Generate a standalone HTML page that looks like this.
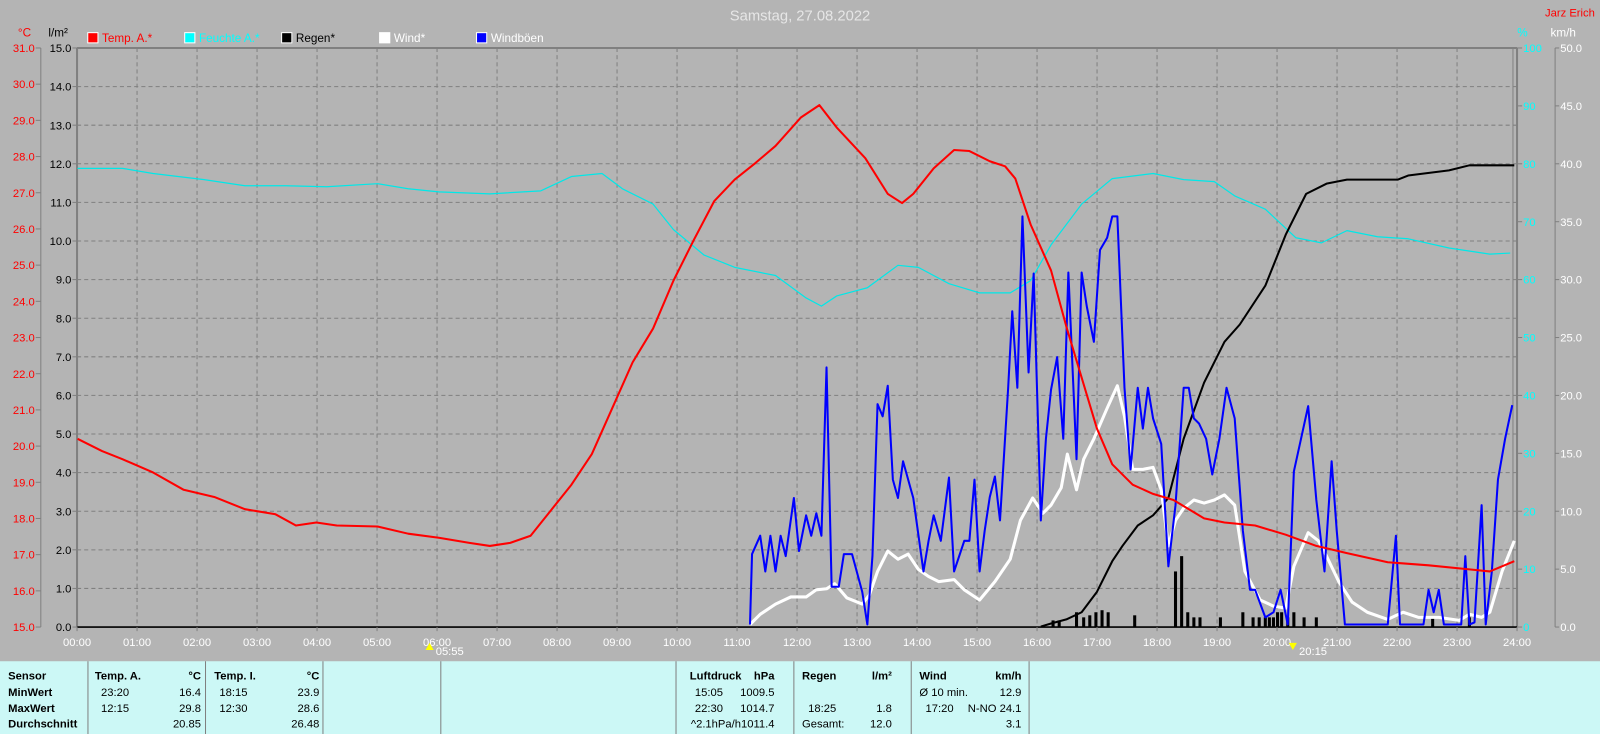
<!DOCTYPE html>
<html><head><meta charset="utf-8"><style>
html,body{margin:0;padding:0;background:#b4b4b4;}
svg{display:block;font-family:"Liberation Sans",sans-serif;}
</style></head><body>
<svg width="1600" height="734" viewBox="0 0 1568 719.3" xmlns="http://www.w3.org/2000/svg">
<rect x="0" y="0" width="1568" height="720" fill="#b4b4b4"/>
<text x="784" y="20" text-anchor="middle" font-size="14.5" fill="#e6e6e6">Samstag, 27.08.2022</text>
<text x="1563" y="16" text-anchor="end" font-size="11" fill="#ff0000">Jarz Erich</text>
<!-- legend -->
<g font-size="11.5">
<rect x="86" y="32" width="10" height="10" fill="#ff0000" stroke="#fff"/><text x="100" y="41" fill="#ff0000">Temp. A.*</text>
<rect x="181" y="32" width="10" height="10" fill="#00ffff" stroke="#fff"/><text x="195" y="41" fill="#00ffff">Feuchte A.*</text>
<rect x="276" y="32" width="10" height="10" fill="#000" stroke="#fff"/><text x="290" y="41" fill="#000">Regen*</text>
<rect x="372" y="32" width="10" height="10" fill="#fff" stroke="#fff"/><text x="386" y="41" fill="#fff">Wind*</text>
<rect x="467" y="32" width="10" height="10" fill="#0000ff" stroke="#fff"/><text x="481" y="41" fill="#fff">Windböen</text>
</g>
<text x="24" y="36" font-size="11.5" fill="#ff0000" text-anchor="middle">°C</text>
<text x="57" y="36" font-size="11.5" fill="#000" text-anchor="middle">l/m²</text>
<text x="1492" y="36" font-size="11.5" fill="#00ffff" text-anchor="middle">%</text>
<text x="1532" y="36" font-size="11.5" fill="#fff" text-anchor="middle">km/h</text>
<!-- grid -->
<g stroke="#808080" stroke-width="1" stroke-dasharray="4,3" id="grid"></g>
<g id="axes"></g>
<!-- rain bars -->
<g id="bars" fill="#000"></g>
<g fill="none" stroke-linejoin="round">
<polyline stroke="#00e8e8" stroke-width="1.2" points="76,165 120,165 150,170 200,176 240,182 280,182 320,183 370,180 400,185 430,188 480,190 530,187 560,173 590,170 610,185 640,200 660,225 690,250 720,262 760,270 790,292 805,300 820,290 850,282 880,260 900,262 930,278 960,287 990,287 1010,275 1030,240 1060,200 1090,175 1130,170 1160,176 1190,178 1210,192 1240,205 1270,233 1295,238 1320,226 1350,232 1380,234 1420,243 1460,249 1480,248"/>
<polyline stroke="#000" stroke-width="2" points="1020,614 1030,611 1045,607 1060,600 1075,580 1090,550 1100,535 1115,515 1130,505 1145,488 1160,430 1180,375 1200,335 1215,318 1240,280 1260,230 1280,190 1300,180 1320,176 1370,176 1380,172 1420,167 1440,162 1484,162"/>
<polyline stroke="#fff" stroke-width="3" points="735,612 745,602 760,592 775,585 790,585 800,578 810,577 818,572 830,586 845,592 852,583 860,560 870,540 880,548 890,543 900,558 910,565 920,570 935,568 945,578 960,588 975,570 990,548 1000,510 1012,488 1022,503 1030,495 1040,478 1046,445 1055,480 1062,450 1072,430 1085,400 1095,378 1102,408 1110,460 1120,460 1130,458 1138,480 1145,535 1152,510 1160,498 1170,490 1180,493 1190,490 1200,485 1210,495 1220,560 1235,588 1248,594 1260,596 1268,555 1282,522 1292,530 1300,545 1312,570 1325,590 1340,600 1360,607 1375,600 1390,605 1410,605 1430,608 1440,602 1452,605 1460,600 1472,560 1484,530"/>
<polyline stroke="#0000ff" stroke-width="2" points="735,612 737,543 745,525 750,560 755,525 760,560 765,525 770,545 778,488 783,540 790,505 795,525 800,503 805,525 810,360 815,575 822,575 827,543 835,543 845,580 850,612 855,545 860,396 865,408 870,378 875,470 880,488 885,452 895,488 905,560 910,530 915,505 922,530 930,468 935,560 940,545 945,530 950,530 955,470 960,560 965,520 970,487 975,467 980,510 988,380 992,305 997,380 1002,212 1008,365 1013,268 1020,510 1025,430 1030,382 1036,350 1042,430 1047,267 1055,450 1060,267 1065,300 1072,335 1078,245 1085,233 1090,212 1095,212 1102,380 1108,460 1115,380 1120,420 1125,380 1130,410 1138,435 1145,555 1152,495 1160,380 1165,380 1170,410 1175,415 1182,430 1188,465 1195,430 1202,380 1210,410 1218,520 1225,578 1230,578 1240,605 1248,600 1255,578 1262,612 1268,462 1275,430 1282,398 1290,490 1298,560 1305,452 1310,520 1318,612 1360,612 1368,525 1372,612 1395,612 1400,578 1405,600 1410,578 1415,612 1432,612 1436,545 1440,612 1445,610 1452,495 1456,612 1462,560 1468,470 1475,430 1482,397"/>
<polyline stroke="#ff0000" stroke-width="2" points="76,430 100,442 120,450 150,463 180,480 210,487 240,499 270,504 290,515 310,512 330,515 370,516 400,523 430,527 460,532 480,535 500,532 520,525 540,500 560,475 580,445 600,400 620,355 640,322 660,275 680,235 700,197 720,176 740,160 760,143 785,115 803,103 820,125 848,155 870,190 884,199 895,190 915,165 935,147 950,148 970,158 985,163 995,175 1010,220 1030,265 1045,320 1060,370 1075,420 1090,455 1110,475 1130,484 1150,490 1180,508 1200,512 1230,515 1260,524 1290,535 1320,542 1360,551 1400,554 1440,558 1460,560 1484,550"/>
</g>
<!-- sun marks -->
<polygon points="417,637 421,630 425,637" fill="#ffff00"/><text x="427" y="642" font-size="11" fill="#fff">05:55</text>
<polygon points="1263,630 1267,637 1271,630" fill="#ffff00"/><text x="1273" y="642" font-size="11" fill="#fff">20:15</text>
<!-- table -->
<rect x="0" y="648" width="1568" height="72" fill="#ccf8f6"/>
<g stroke="#808080" stroke-width="1">
<line x1="86.2" y1="648" x2="86.2" y2="720"/><line x1="201.4" y1="648" x2="201.4" y2="720"/><line x1="316.5" y1="648" x2="316.5" y2="720"/><line x1="432" y1="648" x2="432" y2="720"/><line x1="662.5" y1="648" x2="662.5" y2="720"/><line x1="778" y1="648" x2="778" y2="720"/><line x1="893" y1="648" x2="893" y2="720"/><line x1="1008.5" y1="648" x2="1008.5" y2="720"/>
</g>
<g font-size="11" fill="#000">
<g font-weight="bold"><text x="8" y="666">Sensor</text><text x="8" y="682">MinWert</text><text x="8" y="698">MaxWert</text><text x="8" y="713">Durchschnitt</text>
<text x="93" y="666">Temp. A.</text><text x="197" y="666" text-anchor="end">°C</text>
<text x="210" y="666">Temp. I.</text><text x="313" y="666" text-anchor="end">°C</text>
<text x="676" y="666">Luftdruck</text><text x="759" y="666" text-anchor="end">hPa</text>
<text x="786" y="666">Regen</text><text x="874" y="666" text-anchor="end">l/m²</text>
<text x="901" y="666">Wind</text><text x="1001" y="666" text-anchor="end">km/h</text></g>
<text x="99" y="682">23:20</text><text x="197" y="682" text-anchor="end">16.4</text>
<text x="99" y="698">12:15</text><text x="197" y="698" text-anchor="end">29.8</text>
<text x="197" y="713" text-anchor="end">20.85</text>
<text x="215" y="682">18:15</text><text x="313" y="682" text-anchor="end">23.9</text>
<text x="215" y="698">12:30</text><text x="313" y="698" text-anchor="end">28.6</text>
<text x="313" y="713" text-anchor="end">26.48</text>
<text x="681" y="682">15:05</text><text x="759" y="682" text-anchor="end">1009.5</text>
<text x="681" y="698">22:30</text><text x="759" y="698" text-anchor="end">1014.7</text>
<text x="677" y="713">^2.1hPa/h</text><text x="759" y="713" text-anchor="end">1011.4</text>
<text x="792" y="698">18:25</text><text x="874" y="698" text-anchor="end">1.8</text>
<text x="786" y="713">Gesamt:</text><text x="874" y="713" text-anchor="end">12.0</text>
<text x="901" y="682">Ø 10 min.</text><text x="1001" y="682" text-anchor="end">12.9</text>
<text x="907" y="698">17:20</text><text x="1001" y="698" text-anchor="end">N-NO 24.1</text>
<text x="1001" y="713" text-anchor="end">3.1</text>
</g>
<script>
(function(){
var NS="http://www.w3.org/2000/svg";
function el(p,t,a,txt){var e=document.createElementNS(NS,t);for(var k in a)e.setAttribute(k,a[k]);if(txt!=null)e.textContent=txt;p.appendChild(e);return e;}
var L=75.5,R=1486.7,T=47,B=614.5,H=(R-L)/24;
var g=document.getElementById('grid'),ax=document.getElementById('axes');
for(var i=1;i<24;i++){var x=L+i*H;el(g,'line',{x1:x,y1:T,x2:x,y2:B});}
for(var i=1;i<15;i++){var y=B-i*(B-T)/15;el(g,'line',{x1:L,y1:y,x2:R,y2:y});}
// borders
el(ax,'line',{x1:L,y1:T,x2:R,y2:T,stroke:'#808080','stroke-width':2});
el(ax,'line',{x1:L,y1:T,x2:L,y2:B,stroke:'#808080','stroke-width':2});
el(ax,'line',{x1:R,y1:T,x2:R,y2:B,stroke:'#808080','stroke-width':2});
el(ax,'line',{x1:R-4,y1:T,x2:R-4,y2:B,stroke:'#808080','stroke-width':1});
el(ax,'line',{x1:L,y1:B,x2:R,y2:B,stroke:'#000','stroke-width':1.5});
el(ax,'line',{x1:40,y1:T,x2:40,y2:B,stroke:'#808080','stroke-width':1});
el(ax,'line',{x1:1524,y1:T,x2:1524,y2:B,stroke:'#808080','stroke-width':1});
for(var i=0;i<=16;i++){var y=B-i*(B-T)/16;
 el(ax,'line',{x1:35,y1:y,x2:40,y2:y,stroke:'#808080'});
 el(ax,'text',{x:34,y:y+4,'font-size':11,fill:'#ff0000','text-anchor':'end'},(15+i).toFixed(1));}
for(var i=0;i<=15;i++){var y=B-i*(B-T)/15;
 el(ax,'line',{x1:71,y1:y,x2:76,y2:y,stroke:'#808080'});
 el(ax,'text',{x:70,y:y+4,'font-size':11,fill:'#000','text-anchor':'end'},i.toFixed(1));}
for(var i=0;i<=10;i++){var y=B-i*(B-T)/10;
 el(ax,'line',{x1:R,y1:y,x2:R+5,y2:y,stroke:'#808080'});
 el(ax,'text',{x:R+6,y:y+4,'font-size':11,fill:'#00ffff'},String(i*10));
 el(ax,'line',{x1:1524,y1:y,x2:1528,y2:y,stroke:'#808080'});
 el(ax,'text',{x:1529,y:y+4,'font-size':11,fill:'#fff'},(i*5).toFixed(1));}
for(var i=0;i<=24;i++){var x=L+i*H;
 el(ax,'line',{x1:x,y1:B,x2:x,y2:B+4,stroke:'#808080'});
 el(ax,'text',{x:x,y:633,'font-size':11,fill:'#fff','text-anchor':'middle'},(i<10?'0':'')+i+':00');}
var b=document.getElementById('bars');
var bars=[[1032,608],[1038,608],[1055,600],[1062,605],[1068,603],[1074,600],[1080,598],[1086,600],[1112,603],[1152,560],[1158,545],[1164,600],[1170,605],[1176,605],[1196,605],[1218,600],[1228,605],[1234,605],[1240,605],[1244,605],[1248,605],[1252,600],[1256,600],[1262,605],[1268,600],[1278,605],[1290,605],[1404,605],[1440,605]];
bars.forEach(function(p){el(b,'rect',{x:p[0]-1.5,y:p[1],width:3,height:B-p[1]});});
})();
</script>
</svg>
</body></html>
